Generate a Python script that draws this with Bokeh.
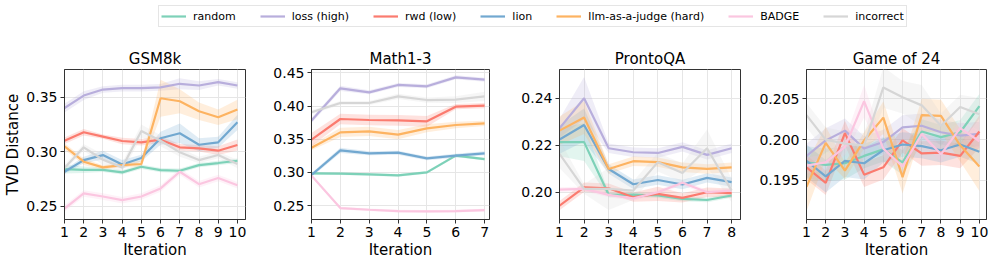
from bokeh.plotting import figure
from bokeh.layouts import column, row
from bokeh.models import Range1d, FixedTicker, Legend, LegendItem, PrintfTickFormatter
from bokeh.embed import file_html
from bokeh.resources import INLINE

# ---------------- data ----------------
series_names = ["random", "loss (high)", "rwd (low)", "lion", "llm-as-a-judge (hard)", "BADGE", "incorrect"]
series_colors = ["#7dd1b8", "#b8aedc", "#fb7b6f", "#72a8d0", "#fdb361", "#fbc6e0", "#d6d6d6"]

panel_titles = ["GSM8k", "Math1-3", "ProntoQA", "Game of 24"]

# GSM8k
gsm_random = [0.284, 0.2834, 0.2834, 0.281, 0.2862, 0.2831, 0.2825, 0.2877, 0.2896, 0.2917]
gsm_loss = [0.340, 0.3515, 0.357, 0.3583, 0.3583, 0.359, 0.3623, 0.3607, 0.3638, 0.3607]
gsm_rwd = [0.3101, 0.3178, 0.3138, 0.3098, 0.3086, 0.311, 0.304, 0.3031, 0.3009, 0.3061]
gsm_lion = [0.2816, 0.2923, 0.2969, 0.2883, 0.2942, 0.3123, 0.3169, 0.3064, 0.3086, 0.327]
gsm_llm = [0.305, 0.2908, 0.2856, 0.2877, 0.2887, 0.349, 0.3463, 0.3371, 0.3316, 0.3387]
gsm_badge = [0.2478, 0.2617, 0.2589, 0.2555, 0.2589, 0.2663, 0.2816, 0.2702, 0.2758, 0.2693]
gsm_incorrect = [0.285, 0.304, 0.2926, 0.2856, 0.319, 0.310, 0.2994, 0.2923, 0.297, 0.2887]

gsm_random_sd = [0.004, 0.003, 0.002, 0.002, 0.002, 0.002, 0.002, 0.002, 0.002, 0.002]
gsm_loss_sd = [0.004, 0.004, 0.003, 0.003, 0.003, 0.003, 0.005, 0.004, 0.003, 0.003]
gsm_rwd_sd = [0.003, 0.003, 0.002, 0.003, 0.003, 0.003, 0.003, 0.003, 0.004, 0.005]
gsm_lion_sd = [0.002, 0.003, 0.004, 0.004, 0.003, 0.006, 0.009, 0.006, 0.005, 0.007]
gsm_llm_sd = [0.003, 0.003, 0.002, 0.002, 0.003, 0.017, 0.011, 0.008, 0.007, 0.009]
gsm_badge_sd = [0.003, 0.003, 0.003, 0.003, 0.003, 0.003, 0.003, 0.003, 0.003, 0.003]
gsm_incorrect_sd = [0.003, 0.003, 0.005, 0.004, 0.006, 0.005, 0.004, 0.003, 0.003, 0.004]

# Math1-3
math_random = [0.2985, 0.298, 0.297, 0.2955, 0.300, 0.3252, 0.320]
math_loss = [0.378, 0.4266, 0.4206, 0.4317, 0.4297, 0.4432, 0.4397]
math_rwd = [0.3493, 0.3804, 0.3789, 0.3784, 0.3769, 0.399, 0.4005]
math_lion = [0.296, 0.3332, 0.3287, 0.3297, 0.3211, 0.3252, 0.3287]
math_llm = [0.3372, 0.3603, 0.3618, 0.3568, 0.3664, 0.3714, 0.3739]
math_badge = [0.295, 0.2462, 0.2437, 0.2417, 0.2412, 0.2417, 0.2432]
math_incorrect = [0.3905, 0.4045, 0.4045, 0.4146, 0.409, 0.4096, 0.4146]

math_random_sd = [0.002, 0.002, 0.002, 0.002, 0.002, 0.002, 0.002]
math_loss_sd = [0.004, 0.004, 0.003, 0.003, 0.003, 0.003, 0.003]
math_rwd_sd = [0.010, 0.008, 0.008, 0.008, 0.008, 0.004, 0.004]
math_lion_sd = [0.003, 0.004, 0.003, 0.003, 0.003, 0.003, 0.003]
math_llm_sd = [0.004, 0.007, 0.007, 0.007, 0.006, 0.005, 0.004]
math_badge_sd = [0.002, 0.002, 0.002, 0.002, 0.002, 0.002, 0.002]
math_incorrect_sd = [0.003, 0.003, 0.003, 0.004, 0.004, 0.005, 0.007]

# ProntoQA
pronto_random = [0.2213, 0.2213, 0.1989, 0.199, 0.1986, 0.1972, 0.1967, 0.1986]
pronto_loss = [0.2272, 0.240, 0.2187, 0.217, 0.2167, 0.2193, 0.2159, 0.2187]
pronto_rwd = [0.1943, 0.2021, 0.2017, 0.1979, 0.1993, 0.1976, 0.200, 0.1996]
pronto_lion = [0.2224, 0.2286, 0.2099, 0.2034, 0.2052, 0.2033, 0.2061, 0.2043]
pronto_llm = [0.2262, 0.2318, 0.2099, 0.2132, 0.2128, 0.2106, 0.2099, 0.2106]
pronto_badge = [0.2011, 0.2014, 0.1989, 0.1974, 0.200, 0.204, 0.200, 0.2007]
pronto_incorrect = [0.2163, 0.2014, 0.2014, 0.2007, 0.2128, 0.2082, 0.2187, 0.2007]

pronto_random_sd = [0.006, 0.008, 0.001, 0.001, 0.001, 0.001, 0.001, 0.001]
pronto_loss_sd = [0.004, 0.009, 0.002, 0.002, 0.002, 0.002, 0.002, 0.002]
pronto_rwd_sd = [0.002, 0.002, 0.002, 0.002, 0.003, 0.002, 0.002, 0.002]
pronto_lion_sd = [0.006, 0.007, 0.002, 0.002, 0.002, 0.002, 0.002, 0.002]
pronto_llm_sd = [0.006, 0.007, 0.002, 0.002, 0.002, 0.002, 0.002, 0.002]
pronto_badge_sd = [0.001, 0.001, 0.001, 0.001, 0.001, 0.001, 0.001, 0.001]
pronto_incorrect_sd = [0.006, 0.002, 0.009, 0.004, 0.004, 0.004, 0.008, 0.005]

# Game of 24
game_random = [0.1972, 0.1969, 0.1971, 0.198, 0.1988, 0.1972, 0.201, 0.2003, 0.2009, 0.2041]
game_loss = [0.198, 0.1999, 0.2011, 0.1989, 0.1997, 0.2015, 0.2017, 0.2009, 0.2005, 0.2007]
game_rwd = [0.1966, 0.1947, 0.2008, 0.1957, 0.1966, 0.1999, 0.1983, 0.1984, 0.198, 0.201]
game_lion = [0.1974, 0.1955, 0.1974, 0.1971, 0.1987, 0.1994, 0.1992, 0.1987, 0.1994, 0.1985]
game_llm = [0.1942, 0.1996, 0.1962, 0.1999, 0.2027, 0.1954, 0.203, 0.2029, 0.1993, 0.1967]
game_badge = [0.1968, 0.1972, 0.1991, 0.2047, 0.1989, 0.1967, 0.2007, 0.1982, 0.2014, 0.1998]
game_incorrect = [0.203, 0.200, 0.1995, 0.1993, 0.2064, 0.2052, 0.2042, 0.2017, 0.204, 0.2031]

game_random_sd = [0.002, 0.002, 0.002, 0.0015, 0.0015, 0.0015, 0.0015, 0.0015, 0.0015, 0.0015]
game_loss_sd = [0.0015, 0.0015, 0.0015, 0.0015, 0.0015, 0.0015, 0.0015, 0.0015, 0.0015, 0.0015]
game_rwd_sd = [0.0015, 0.0015, 0.0015, 0.0015, 0.0015, 0.0015, 0.0015, 0.0015, 0.0015, 0.002]
game_lion_sd = [0.002, 0.002, 0.002, 0.002, 0.0015, 0.0015, 0.0015, 0.0015, 0.0015, 0.0015]
game_llm_sd = [0.003, 0.002, 0.001, 0.001, 0.002, 0.002, 0.002, 0.002, 0.002, 0.003]
game_badge_sd = [0.001, 0.001, 0.001, 0.002, 0.001, 0.001, 0.001, 0.001, 0.001, 0.001]
game_incorrect_sd = [0.0015, 0.0015, 0.0015, 0.0015, 0.0025, 0.002, 0.0025, 0.0015, 0.0015, 0.002]

# axis ticks
gsm_yticks = [0.25, 0.30, 0.35]
math_yticks = [0.25, 0.30, 0.35, 0.40, 0.45]
pronto_yticks = [0.20, 0.22, 0.24]
game_yticks = [0.195, 0.200, 0.205]

panels = [
    dict(title="GSM8k",
         means=[gsm_random, gsm_loss, gsm_rwd, gsm_lion, gsm_llm, gsm_badge, gsm_incorrect],
         sds=[gsm_random_sd, gsm_loss_sd, gsm_rwd_sd, gsm_lion_sd, gsm_llm_sd, gsm_badge_sd, gsm_incorrect_sd],
         yticks=gsm_yticks, fmt="%.2f", xr=(1, 10.42), yr=(0.2378, 0.3754),
         bl=64, fw=181, br=10, ylabel="TVD Distance"),
    dict(title="Math1-3",
         means=[math_random, math_loss, math_rwd, math_lion, math_llm, math_badge, math_incorrect],
         sds=[math_random_sd, math_loss_sd, math_rwd_sd, math_lion_sd, math_llm_sd, math_badge_sd, math_incorrect_sd],
         yticks=math_yticks, fmt="%.2f", xr=(1, 7.17), yr=(0.229, 0.455),
         bl=56, fw=178, br=10, ylabel=None),
    dict(title="ProntoQA",
         means=[pronto_random, pronto_loss, pronto_rwd, pronto_lion, pronto_llm, pronto_badge, pronto_incorrect],
         sds=[pronto_random_sd, pronto_loss_sd, pronto_rwd_sd, pronto_lion_sd, pronto_llm_sd, pronto_badge_sd, pronto_incorrect_sd],
         yticks=pronto_yticks, fmt="%.2f", xr=(1, 8.36), yr=(0.1884, 0.2522),
         bl=60, fw=181, br=10, ylabel=None),
    dict(title="Game of 24",
         means=[game_random, game_loss, game_rwd, game_lion, game_llm, game_badge, game_incorrect],
         sds=[game_random_sd, game_loss_sd, game_rwd_sd, game_lion_sd, game_llm_sd, game_badge_sd, game_incorrect_sd],
         yticks=game_yticks, fmt="%.3f", xr=(1, 10.37), yr=(0.1902, 0.2086),
         bl=56, fw=180, br=4, ylabel=None),
]

FONT = "DejaVu Sans"
FRAME_H = 150
TOP = 35
BOTTOM = 36

figs = []
for pd_ in panels:
    n = len(pd_["means"][0])
    xs = list(range(1, n + 1))
    p = figure(width=pd_["bl"] + pd_["fw"] + pd_["br"], height=TOP + FRAME_H + BOTTOM,
               x_range=Range1d(*pd_["xr"]), y_range=Range1d(*pd_["yr"]),
               toolbar_location=None, output_backend="svg",
               min_border_left=pd_["bl"], min_border_right=pd_["br"],
               min_border_top=TOP, min_border_bottom=BOTTOM)
    p.frame_width = pd_["fw"]
    p.frame_height = FRAME_H
    p.title.text = pd_["title"]
    p.title.align = "center"
    p.title.text_font = FONT
    p.title.text_font_size = "15px"
    p.title.text_font_style = "normal"
    p.title.text_color = "#000000"
    p.title.standoff = 3

    for mean, sd, color in zip(pd_["means"], pd_["sds"], series_colors):
        lo = [m - s for m, s in zip(mean, sd)]
        hi = [m + s for m, s in zip(mean, sd)]
        p.varea(x=xs, y1=lo, y2=hi, fill_color=color, fill_alpha=0.22)
    for mean, color in zip(pd_["means"], series_colors):
        p.line(x=xs, y=mean, line_color=color, line_width=2.2)

    p.xaxis.ticker = FixedTicker(ticks=xs)
    p.yaxis.ticker = FixedTicker(ticks=pd_["yticks"])
    p.yaxis.formatter = PrintfTickFormatter(format=pd_["fmt"])
    p.xaxis.axis_label = "Iteration"
    if pd_["ylabel"]:
        p.yaxis.axis_label = pd_["ylabel"]
    for ax in [p.xaxis[0], p.yaxis[0]]:
        ax.major_label_text_font = FONT
        ax.major_label_text_font_size = "14px"
        ax.major_label_text_color = "#000000"
        ax.axis_label_text_font = FONT
        ax.axis_label_text_font_size = "15px"
        ax.axis_label_text_font_style = "normal"
        ax.axis_label_text_color = "#000000"
        ax.major_tick_in = 0
        ax.major_tick_out = 4
        ax.minor_tick_out = 0
        ax.minor_tick_in = 0
        ax.major_tick_line_color = "#333333"
        ax.axis_line_color = "#333333"
        ax.major_label_standoff = 3
        ax.axis_label_standoff = 1
    p.grid.grid_line_color = "#e6e6e6"
    p.grid.grid_line_width = 1
    p.outline_line_color = "#333333"
    p.outline_line_width = 1
    p.background_fill_color = "white"
    p.border_fill_color = "white"
    figs.append(p)

# legend figure
total_w = sum(f.width for f in figs)
LEG_H = 34
leg = figure(width=total_w, height=LEG_H, toolbar_location=None, output_backend="svg",
             x_range=Range1d(0, 1), y_range=Range1d(0, 1),
             min_border_left=0, min_border_right=0, min_border_top=0, min_border_bottom=0,
             x_axis_type=None, y_axis_type=None)
leg.outline_line_color = None
leg.grid.visible = False
items = []
for name, color in zip(series_names, series_colors):
    # placeholder renderer lying outside the visible range, used only for the legend glyph
    r = leg.line(x=[5, 6], y=[5, 5], line_color=color, line_width=2.2)
    items.append(LegendItem(label=name, renderers=[r]))
legend = Legend(items=items, orientation="horizontal", location=(158, LEG_H - 6 - 21),
                label_text_font=FONT, label_text_font_size="11px", label_text_color="#000000",
                glyph_width=25, glyph_height=16, label_height=16, label_standoff=7,
                spacing=24, padding=2, margin=0,
                border_line_color="#cccccc", border_line_width=1,
                background_fill_alpha=1.0)
leg.add_layout(legend, "center")

layout = column(leg, row(*figs, spacing=0), spacing=0)

with open("out.html", "w") as f:
    f.write(file_html(layout, INLINE))
